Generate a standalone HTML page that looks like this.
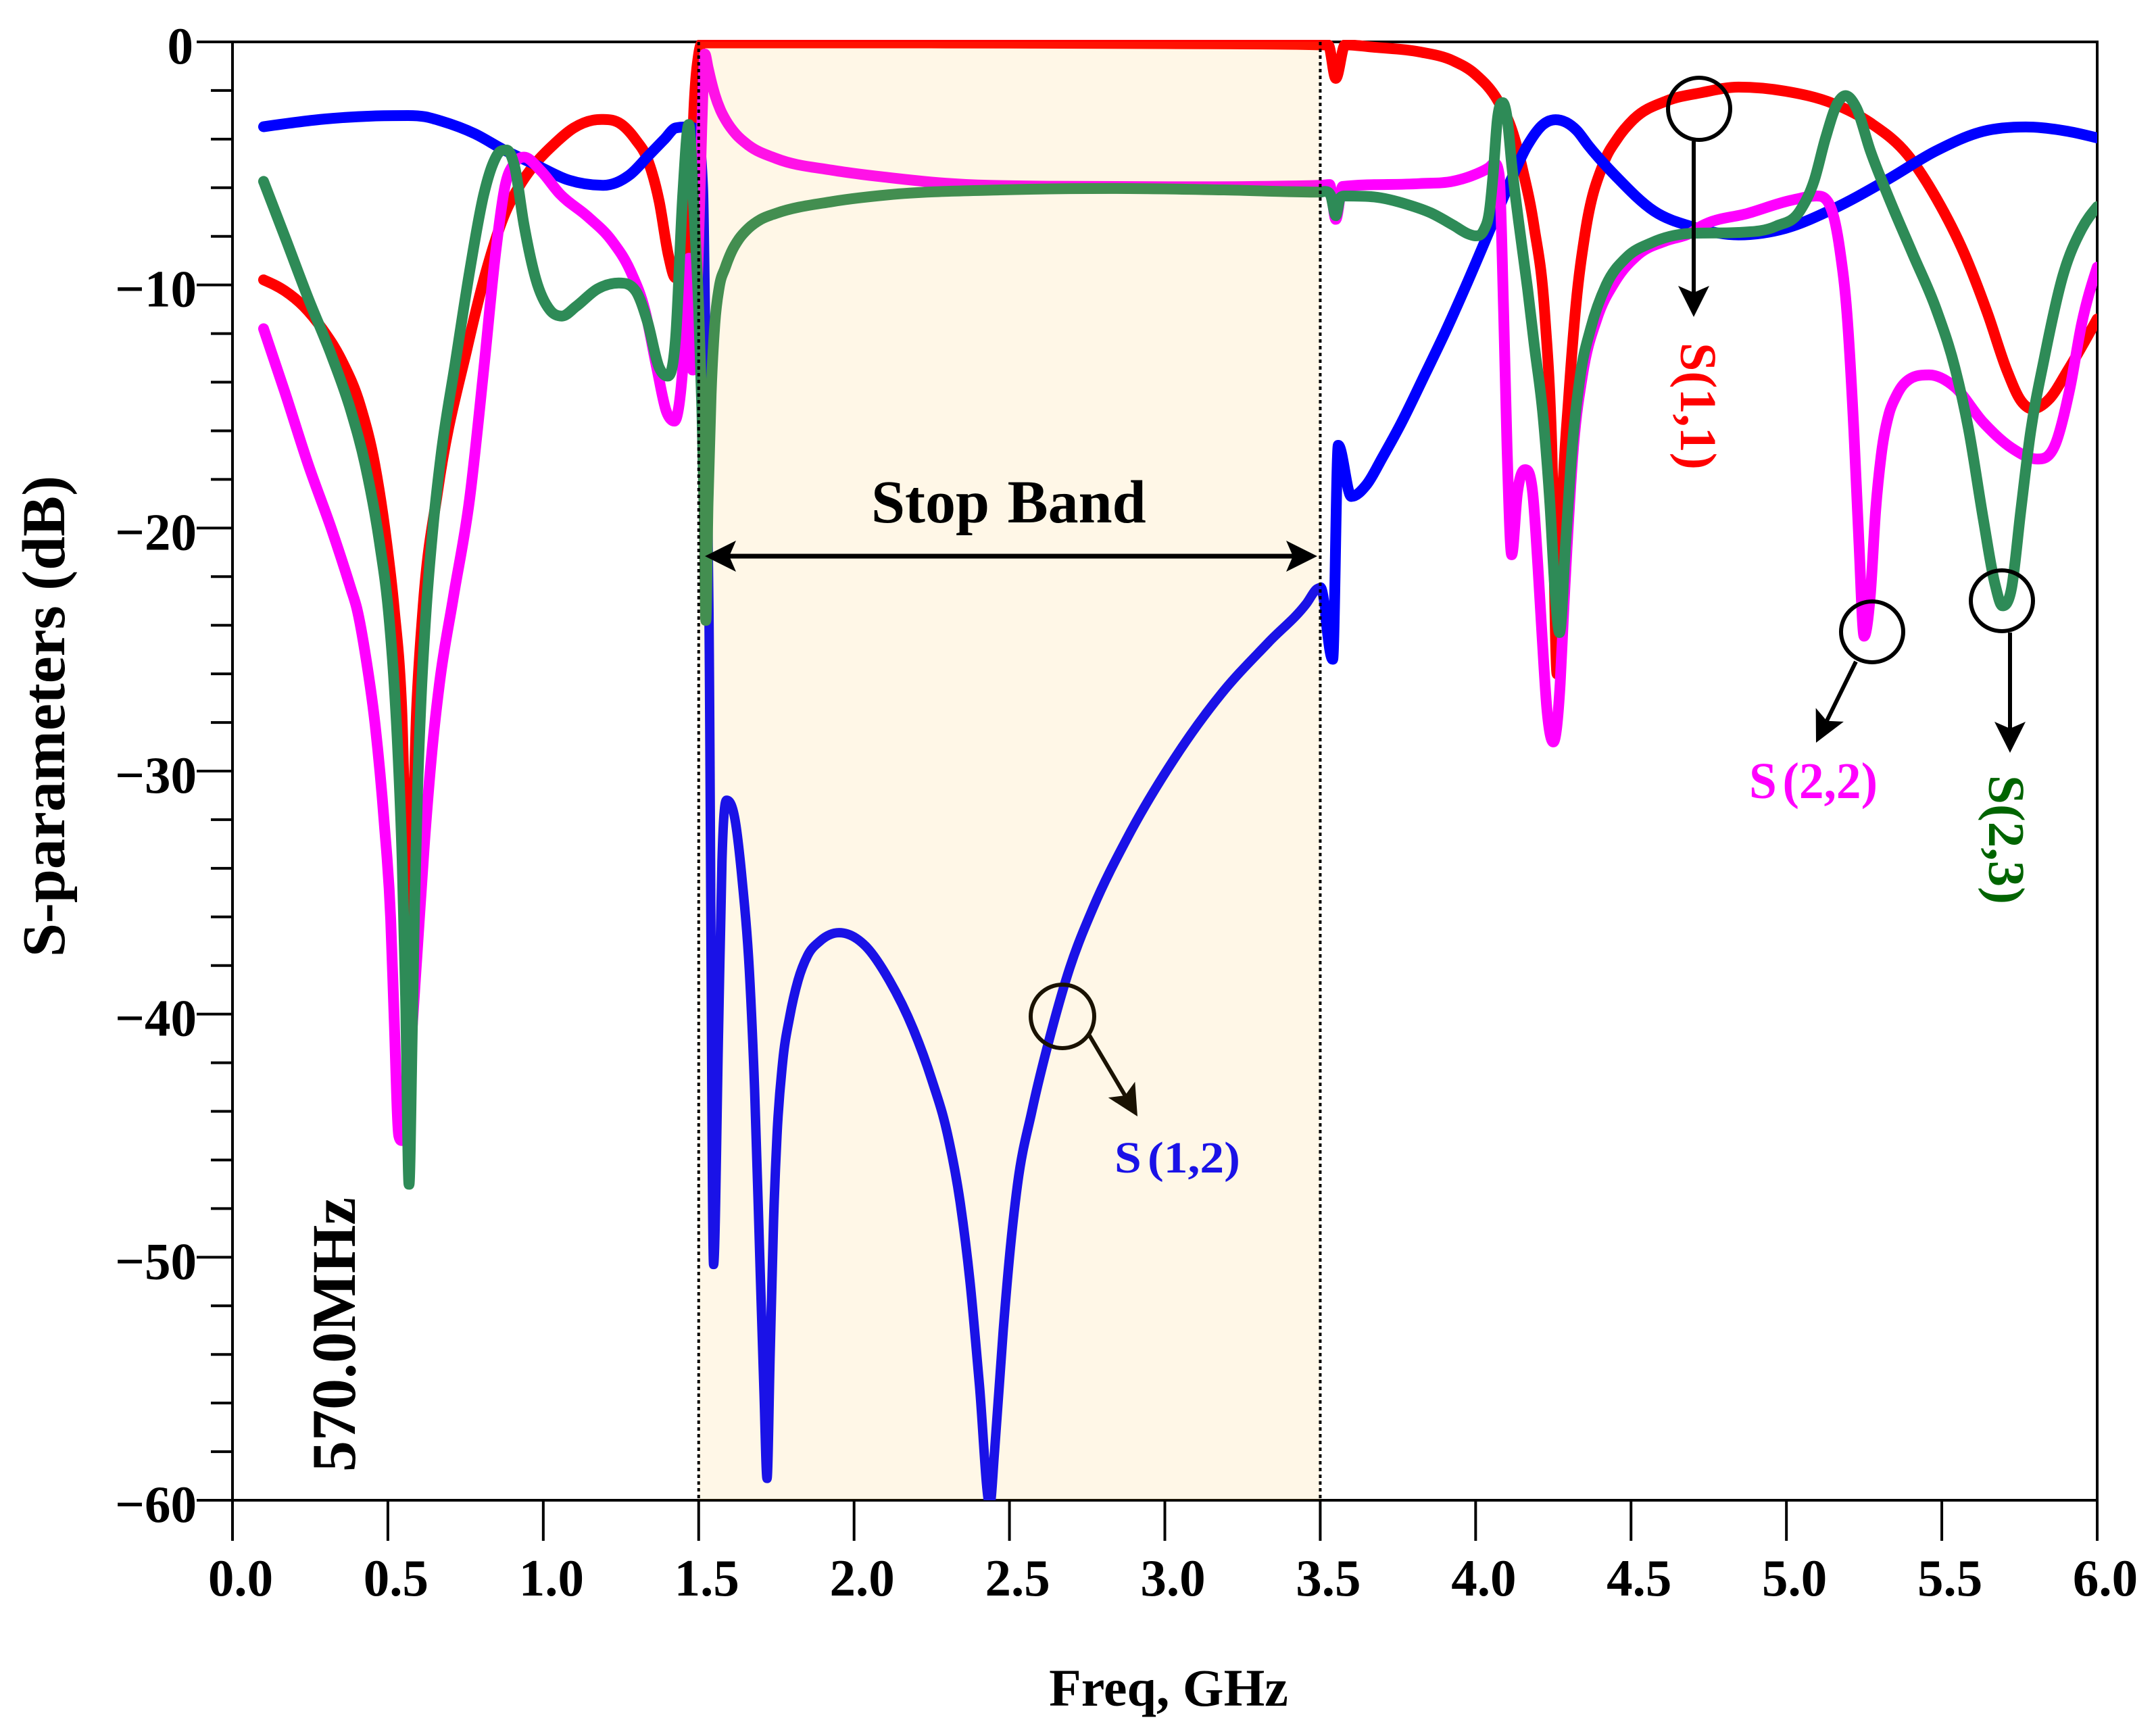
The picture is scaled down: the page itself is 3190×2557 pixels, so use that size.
<!DOCTYPE html>
<html lang="en">
<head>
<meta charset="utf-8">
<title>S-parameters chart</title>
<style>
html,body{margin:0;padding:0;background:#fff;}
svg{display:block;}
text{font-family:"Liberation Serif","Times New Roman",serif;font-weight:bold;}
</style>
</head>
<body>
<svg id="chart" xmlns="http://www.w3.org/2000/svg" width="3190" height="2557" viewBox="0 0 3190 2557">
  <defs>
    <clipPath id="plot-clip"><rect x="300" y="59" width="2803" height="2161"></rect></clipPath>
    <clipPath id="band-clip"><rect id="band-clip-rect" x="0" y="0" width="10" height="2557"></rect></clipPath>
    <clipPath id="outside-clip"><rect id="outside-left-rect" x="0" y="0" width="10" height="2557"></rect><rect id="outside-right-rect" x="0" y="0" width="10" height="2557"></rect></clipPath>
  </defs>
  <rect x="0" y="0" width="3190" height="2557" fill="#ffffff"></rect>
  <g id="axes"></g>
  <g id="series" clip-path="url(#plot-clip)"></g>
  <g id="annotations">
    <text x="1649" y="1735" font-size="66" fill="#0000ff" textLength="186" lengthAdjust="spacingAndGlyphs" word-spacing="-8">S (1,2)</text>
    <text x="2588" y="1181" font-size="76" fill="#ff00ff" textLength="190" lengthAdjust="spacingAndGlyphs" word-spacing="-10">S (2,2)</text>
    <text transform="translate(2487,507) rotate(90)" font-size="76" fill="#ff0000" textLength="188" lengthAdjust="spacingAndGlyphs">S(1,1)</text>
    <text transform="translate(2943,1147) rotate(90)" font-size="76" fill="#006400" textLength="191" lengthAdjust="spacingAndGlyphs">S(2,3)</text>
    <ellipse cx="2514" cy="161" rx="46" ry="46" fill="none" stroke="#000" stroke-width="6"></ellipse>
    <ellipse cx="2770" cy="935" rx="46" ry="45" fill="none" stroke="#000" stroke-width="6"></ellipse>
    <ellipse cx="2962" cy="889" rx="46" ry="45" fill="none" stroke="#000" stroke-width="6"></ellipse>
    <ellipse cx="1572" cy="1504" rx="47" ry="47" fill="none" stroke="#000" stroke-width="6"></ellipse>
  </g>
  <g id="band"></g>
  <g id="overlay-text">
    <text x="1289" y="773" font-size="90" fill="#000" word-spacing="4">Stop Band</text>
    <text transform="translate(525,2178) rotate(-90)" font-size="92" fill="#000">570.0MHz</text>
    <text x="1729" y="2524" font-size="78" fill="#000" text-anchor="middle">Freq, GHz</text>
    <text transform="translate(95,1060) rotate(-90)" font-size="90" fill="#000" text-anchor="middle">S-parameters (dB)</text>
  </g>
<script>
const xTickValues = [0,0.5,1,1.5,2,2.5,3,3.5,4,4.5,5,5.5,6];
const xTickLabels = ['0.0','0.5','1.0','1.5','2.0','2.5','3.0','3.5','4.0','4.5','5.0','5.5','6.0'];
const yTickValues = [0,-10,-20,-30,-40,-50,-60];
const yTickLabels = ['0','\u221210','\u221220','\u221230','\u221240','\u221250','\u221260'];
const yMinorValues = [-2,-4,-6,-8,-12,-14,-16,-18,-22,-24,-26,-28,-32,-34,-36,-38,-42,-44,-46,-48,-52,-54,-56,-58];
const stopBandEdges = [1.5,3.5];

const s11Freq = [
0.1,0.168,0.229,0.29,0.351,0.412,0.458,0.496,0.52,0.544,
0.568,0.593,0.613,0.66,0.755,0.816,0.877,0.923,0.976,1.037,
1.098,1.16,1.193,1.25,1.297,1.335,1.373,1.403,1.425,1.45,
1.47,1.485,1.5,1.512,2.0,2.5,3.0,3.5,3.526,3.55,
3.58,3.674,3.819,3.928,3.999,4.073,4.116,4.152,4.188,4.223,
4.245,4.262,4.28,4.299,4.323,4.352,4.413,4.456,4.507,4.616,
4.726,4.846,4.997,5.149,5.27,5.391,5.482,5.573,5.648,5.709,
5.755,5.792,5.845,5.906,6.0];
const s11Db = [
-9.79,-10.24,-10.88,-11.83,-13.1,-15.0,-17.4,-20.6,-23.3,-27.3,
-37,-27.3,-23.3,-18.5,-12.6,-9.44,-7.05,-5.93,-4.98,-4.18,
-3.54,-3.22,-3.19,-3.38,-4.02,-4.82,-6.57,-8.8,-9.7,-9.5,
-8.3,-2.7,-0.5,-0.04,-0.04,-0.05,-0.07,-0.12,-0.13,-1.5,
-0.12,-0.22,-0.41,-0.78,-1.33,-2.45,-3.6,-5.3,-7.6,-11.3,
-16.65,-26,-18.6,-14.7,-10.8,-7.9,-4.95,-3.98,-3.2,-2.42,
-2.09,-1.86,-2.03,-2.53,-3.33,-4.66,-6.43,-8.73,-11.2,-13.5,
-14.77,-15.1,-14.7,-13.5,-11.4];

const s12Freq = [
0.1,0.3,0.45,0.565,0.62,0.67,0.78,0.87,0.976,1.083,
1.193,1.28,1.34,1.39,1.426,1.465,1.49,1.515,1.525,1.533,
1.548,1.564,1.575,1.59,1.617,1.64,1.663,1.68,1.698,1.71,
1.72,1.73,1.741,1.752,1.77,1.793,1.82,1.85,1.89,1.952,
2.037,2.113,2.19,2.25,2.3,2.342,2.373,2.403,2.437,2.452,
2.48,2.503,2.526,2.572,2.633,2.694,2.77,2.877,3.03,3.183,
3.334,3.456,3.49,3.5,3.54,3.558,3.6,3.65,3.7,3.76,
3.84,3.9,3.97,4.05,4.108,4.167,4.217,4.257,4.326,4.362,
4.453,4.574,4.695,4.846,4.997,5.149,5.33,5.482,5.633,5.77,
5.906,6.0];
const s12Db = [
-3.49,-3.17,-3.05,-3.03,-3.08,-3.25,-3.78,-4.42,-5.06,-5.69,
-5.9,-5.45,-4.66,-4.0,-3.54,-3.5,-3.6,-6,-15,-23.3,
-50.3,-40.7,-33.7,-31.2,-32,-34.5,-38.2,-43.1,-50.6,-55.5,
-59.1,-54,-48.5,-45,-42,-40.1,-38.6,-37.6,-37,-36.65,
-37.2,-38.6,-40.6,-42.7,-44.9,-47.8,-51,-55.2,-60.2,-58,
-53,-49.6,-47,-44,-40.8,-38.1,-35.6,-32.8,-29.5,-26.8,
-24.7,-23.1,-22.5,-22.45,-25.4,-16.6,-18.7,-18.2,-17.1,-15.7,
-13.6,-12,-10,-7.6,-5.85,-4.25,-3.4,-3.2,-3.65,-4.25,
-5.55,-6.96,-7.6,-7.94,-7.67,-6.88,-5.63,-4.48,-3.68,-3.5,
-3.68,-3.95];

const s22Freq = [
0.1,0.168,0.244,0.32,0.381,0.4,0.43,0.459,0.488,0.509,
0.52,0.535,0.545,0.57,0.593,0.618,0.644,0.667,0.71,0.763,
0.809,0.847,0.877,0.908,0.938,0.992,1.053,1.144,1.22,1.281,
1.327,1.365,1.396,1.422,1.449,1.469,1.481,1.498,1.51,1.52,
1.53,1.54,1.552,1.57,1.588,1.62,1.66,1.75,1.93,2.11,
2.29,2.65,3.01,3.5,3.53,3.55,3.572,3.819,3.928,3.999,
4.043,4.06,4.076,4.09,4.101,4.116,4.134,4.159,4.184,4.2,
4.214,4.229,4.25,4.272,4.283,4.315,4.344,4.39,4.449,4.522,
4.616,4.689,4.726,4.877,5.014,5.097,5.142,5.172,5.195,5.217,
5.233,5.25,5.27,5.287,5.305,5.33,5.352,5.376,5.459,5.542,
5.633,5.724,5.807,5.867,5.913,5.95,6.0];
const s22Db = [
-11.8,-14.39,-17.4,-20.1,-22.5,-23.3,-25.4,-28.1,-32.1,-36.1,
-40.1,-45.0,-45.2,-42,-37.7,-32.9,-28.9,-26.3,-22.9,-18.8,
-13.4,-8.64,-5.93,-4.98,-4.74,-5.3,-6.25,-7.2,-8.17,-9.44,
-11.04,-13.4,-15.2,-15.6,-13.4,-8.9,-13.5,-9,-3.5,-0.5,
-1.05,-1.6,-2.17,-2.8,-3.24,-3.8,-4.25,-4.8,-5.28,-5.58,
-5.81,-5.94,-5.96,-5.9,-5.87,-7.3,-5.95,-5.83,-5.73,-5.45,
-5.17,-5,-5.5,-11.07,-16.65,-21.1,-18.6,-17.6,-18.6,-21.5,
-24.5,-27.4,-28.8,-26.4,-23.5,-16.65,-13.7,-11.4,-9.85,-8.76,
-8.17,-7.88,-7.58,-7.05,-6.52,-6.34,-6.79,-8.56,-11.2,-16,
-20.5,-24.45,-22.75,-19.3,-17,-15.3,-14.6,-14.1,-13.7,-14.2,
-15.65,-16.7,-17.16,-16.5,-14.2,-11.6,-9.27];

const s23Freq = [
0.1,0.168,0.244,0.32,0.381,0.427,0.473,0.503,0.52,0.531,
0.546,0.557,0.568,0.578,0.586,0.595,0.607,0.622,0.645,0.671,
0.717,0.763,0.809,0.839,0.862,0.882,0.908,0.938,0.976,1.022,
1.06,1.106,1.175,1.243,1.297,1.335,1.373,1.4,1.426,1.449,
1.468,1.485,1.5,1.51,1.518,1.523,1.53,1.54,1.552,1.566,
1.585,1.605,1.63,1.66,1.7,1.75,1.93,2.11,2.47,2.83,
3.19,3.5,3.514,3.533,3.55,3.565,3.58,3.674,3.783,3.855,
3.928,3.978,4.0,4.027,4.045,4.056,4.07,4.087,4.102,4.116,
4.138,4.167,4.188,4.217,4.239,4.255,4.27,4.29,4.311,4.337,
4.37,4.42,4.486,4.565,4.689,4.846,4.967,5.043,5.089,5.126,
5.164,5.19,5.225,5.27,5.33,5.407,5.482,5.542,5.587,5.633,
5.671,5.695,5.724,5.754,5.784,5.83,5.89,5.95,6.0];
const s23Db = [
-5.74,-8.0,-10.56,-12.95,-15.18,-17.4,-20.6,-23.6,-26.4,-28.9,
-33.7,-39.3,-47,-41,-35.5,-31,-27,-23.6,-20,-17,
-13.2,-9.44,-6.25,-4.98,-4.5,-4.45,-5.14,-7.53,-9.76,-11.04,
-11.28,-10.88,-10.16,-9.92,-10.24,-11.5,-13.4,-13.75,-12.15,-6.25,
-3.4,-7,-11,-15,-19.5,-23.8,-19,-14.5,-11.6,-10.1,
-9.3,-8.65,-8.1,-7.67,-7.3,-7.05,-6.57,-6.29,-6.09,-6.03,
-6.09,-6.18,-6.15,-6.3,-7.15,-6.4,-6.34,-6.38,-6.7,-7.03,
-7.54,-7.91,-7.98,-7.73,-6.9,-5.5,-3.19,-2.5,-3.19,-5.04,
-7.36,-10.14,-12.4,-15.4,-19,-22.5,-24.3,-20.55,-16.65,-13.7,
-11.8,-10,-8.86,-8.27,-7.88,-7.84,-7.58,-6.96,-5.72,-3.95,
-2.53,-2.21,-2.71,-4.48,-6.43,-8.74,-11.0,-13.4,-16,-19.6,
-22.3,-23.2,-22.5,-19.3,-16.2,-13,-9.6,-7.7,-6.78];

const NS = 'http://www.w3.org/2000/svg';
const plotLeft = 344, plotRight = 3103, plotTop = 62, plotBottom = 2220;
const xMin = 0, xMax = 6, yMax = 0, yMin = -60;
function xScale(f){ return plotLeft + (f - xMin) / (xMax - xMin) * (plotRight - plotLeft); }
function yScale(d){ return plotTop + (yMax - d) / (yMax - yMin) * (plotBottom - plotTop); }

document.getElementById('band-clip-rect').setAttribute('x', xScale(stopBandEdges[0]) + 2);
document.getElementById('band-clip-rect').setAttribute('width', xScale(stopBandEdges[1]) - xScale(stopBandEdges[0]) - 2);
document.getElementById('outside-left-rect').setAttribute('width', xScale(stopBandEdges[0]) + 2);
document.getElementById('outside-right-rect').setAttribute('x', xScale(stopBandEdges[1]));
document.getElementById('outside-right-rect').setAttribute('width', 3190 - xScale(stopBandEdges[1]));

function smoothPath(fs, ds){
  const n = Math.min(fs.length, ds.length);
  const x = [], y = [];
  for (let i = 0; i < n; i++){ x.push(xScale(fs[i])); y.push(yScale(ds[i])); }
  const m = new Array(n).fill(0);
  for (let i = 1; i < n - 1; i++){
    const h0 = x[i] - x[i-1], h1 = x[i+1] - x[i];
    const s0 = (y[i] - y[i-1]) / (h0 || 1e-6), s1 = (y[i+1] - y[i]) / (h1 || 1e-6);
    if (s0 * s1 <= 0){ m[i] = 0; continue; }
    const p = (s0 * h1 + s1 * h0) / ((h0 + h1) || 1e-6);
    const lim = 3 * Math.min(Math.abs(s0), Math.abs(s1));
    m[i] = Math.sign(p) * Math.min(Math.abs(p), lim);
  }
  if (n > 1){
    const sA = (y[1] - y[0]) / ((x[1] - x[0]) || 1e-6);
    m[0] = (3 * sA - m[1]) / 2;
    const sB = (y[n-1] - y[n-2]) / ((x[n-1] - x[n-2]) || 1e-6);
    m[n-1] = (3 * sB - m[n-2]) / 2;
  }
  let d = 'M' + x[0].toFixed(2) + ' ' + y[0].toFixed(2);
  for (let i = 0; i < n - 1; i++){
    const h = (x[i+1] - x[i]) / 3;
    d += 'C' + (x[i] + h).toFixed(2) + ' ' + (y[i] + m[i] * h).toFixed(2) + ' ' +
         (x[i+1] - h).toFixed(2) + ' ' + (y[i+1] - m[i+1] * h).toFixed(2) + ' ' +
         x[i+1].toFixed(2) + ' ' + y[i+1].toFixed(2);
  }
  return d;
}

const axes = document.getElementById('axes');
function line(parent, x1, y1, x2, y2, w){
  const el = document.createElementNS(NS, 'line');
  el.setAttribute('x1', x1);
  el.setAttribute('y1', y1);
  el.setAttribute('x2', x2);
  el.setAttribute('y2', y2);
  el.setAttribute('stroke', '#000');
  el.setAttribute('stroke-width', w);
  parent.appendChild(el);
  return el;
}

const frame = document.createElementNS(NS, 'rect');
frame.setAttribute('x', plotLeft);
frame.setAttribute('y', plotTop);
frame.setAttribute('width', plotRight - plotLeft);
frame.setAttribute('height', plotBottom - plotTop);
frame.setAttribute('fill', 'none');
frame.setAttribute('stroke', '#000');
frame.setAttribute('stroke-width', '4');


axes.appendChild(frame);

xTickValues.forEach(function(v, i){
  const tick = line(axes, xScale(v), plotBottom, xScale(v), plotBottom + 60, 4);
  
  
  const t = document.createElementNS(NS, 'text');
  t.setAttribute('x', xScale(v) + 12);
  t.setAttribute('y', 2361);
  t.setAttribute('font-size', '77');
  t.setAttribute('text-anchor', 'middle');
  
  
  t.textContent = xTickLabels[i];
  axes.appendChild(t);
});

yTickValues.forEach(function(v, i){
  const tick = line(axes, plotLeft - 53, yScale(v), plotLeft, yScale(v), 4);
  
  
  const t = document.createElementNS(NS, 'text');
  t.setAttribute('x', v === 0 ? 286 : 291);
  t.setAttribute('y', yScale(v) + 32);
  t.setAttribute('font-size', '77');
  t.setAttribute('text-anchor', 'end');
  
  
  t.textContent = yTickLabels[i];
  axes.appendChild(t);
});

yMinorValues.forEach(function(v){
  const tick = line(axes, plotLeft - 32, yScale(v), plotLeft, yScale(v), 4);
  
  
});

const seriesGroup = document.getElementById('series');
function drawSeries(fs, ds, color, name, width, clip){
  const p = document.createElementNS(NS, 'path');
  p.setAttribute('d', smoothPath(fs, ds));
  p.setAttribute('fill', 'none');
  p.setAttribute('stroke', color);
  p.setAttribute('stroke-width', width);
  p.setAttribute('stroke-linecap', 'round');
  p.setAttribute('stroke-linejoin', 'round');
  if (clip) p.setAttribute('clip-path', clip);
  
  
  seriesGroup.appendChild(p);
}
drawSeries(s11Freq, s11Db, '#ff0000', 's11-line', 16);
drawSeries(s12Freq, s12Db, '#0000ff', 's12-line-outside-band', 16, 'url(#outside-clip)');
drawSeries(s12Freq, s12Db, '#0000ff', 's12-line-in-band', 14, 'url(#band-clip)');
drawSeries(s22Freq, s22Db, '#ff00ff', 's22-line', 16);
drawSeries(s23Freq, s23Db, '#2e8b57', 's23-line', 16);

const annotations = document.getElementById('annotations');
function arrow(parent, x1, y1, x2, y2, name, w){
  const dx = x2 - x1, dy = y2 - y1, len = Math.sqrt(dx * dx + dy * dy);
  const ux = dx / len, uy = dy / len, nx = -uy, ny = ux;
  const L = 46, H = 23, N = 36;
  const shaft = line(parent, x1, y1, x2 - ux * N, y2 - uy * N, w);
  
  
  const head = document.createElementNS(NS, 'polygon');
  head.setAttribute('points',
    x2 + ',' + y2 + ' ' +
    (x2 - ux * L + nx * H) + ',' + (y2 - uy * L + ny * H) + ' ' +
    (x2 - ux * N) + ',' + (y2 - uy * N) + ' ' +
    (x2 - ux * L - nx * H) + ',' + (y2 - uy * L - ny * H));
  head.setAttribute('fill', '#000');
  
  
  parent.appendChild(head);
}
arrow(annotations, 2506, 209, 2506, 469, 's11-arrow', 6);
arrow(annotations, 2746, 979, 2687, 1099, 's22-arrow', 6);
arrow(annotations, 2974, 936, 2974, 1114, 's23-arrow', 6);
arrow(annotations, 1610, 1529, 1683, 1652, 's12-arrow', 6);

const band = document.getElementById('band');
const bandRect = document.createElementNS(NS, 'rect');
bandRect.setAttribute('x', xScale(stopBandEdges[0]));
bandRect.setAttribute('y', plotTop);
bandRect.setAttribute('width', xScale(stopBandEdges[1]) - xScale(stopBandEdges[0]));
bandRect.setAttribute('height', plotBottom - plotTop);
bandRect.setAttribute('fill', 'rgb(255,180,20)');
bandRect.setAttribute('fill-opacity', '0.1');


band.appendChild(bandRect);
stopBandEdges.forEach(function(v){
  const edge = line(band, xScale(v), plotTop, xScale(v), plotBottom, 4);
  edge.setAttribute('stroke-dasharray', '5 5');
  
  
});
const overlayText = document.getElementById('overlay-text');
arrow(overlayText, 1490, 823, 1043, 823, 'stop-band-arrow-left', 7);
arrow(overlayText, 1490, 823, 1949, 823, 'stop-band-arrow-right', 7);
</script>
</svg>
</body>
</html>
